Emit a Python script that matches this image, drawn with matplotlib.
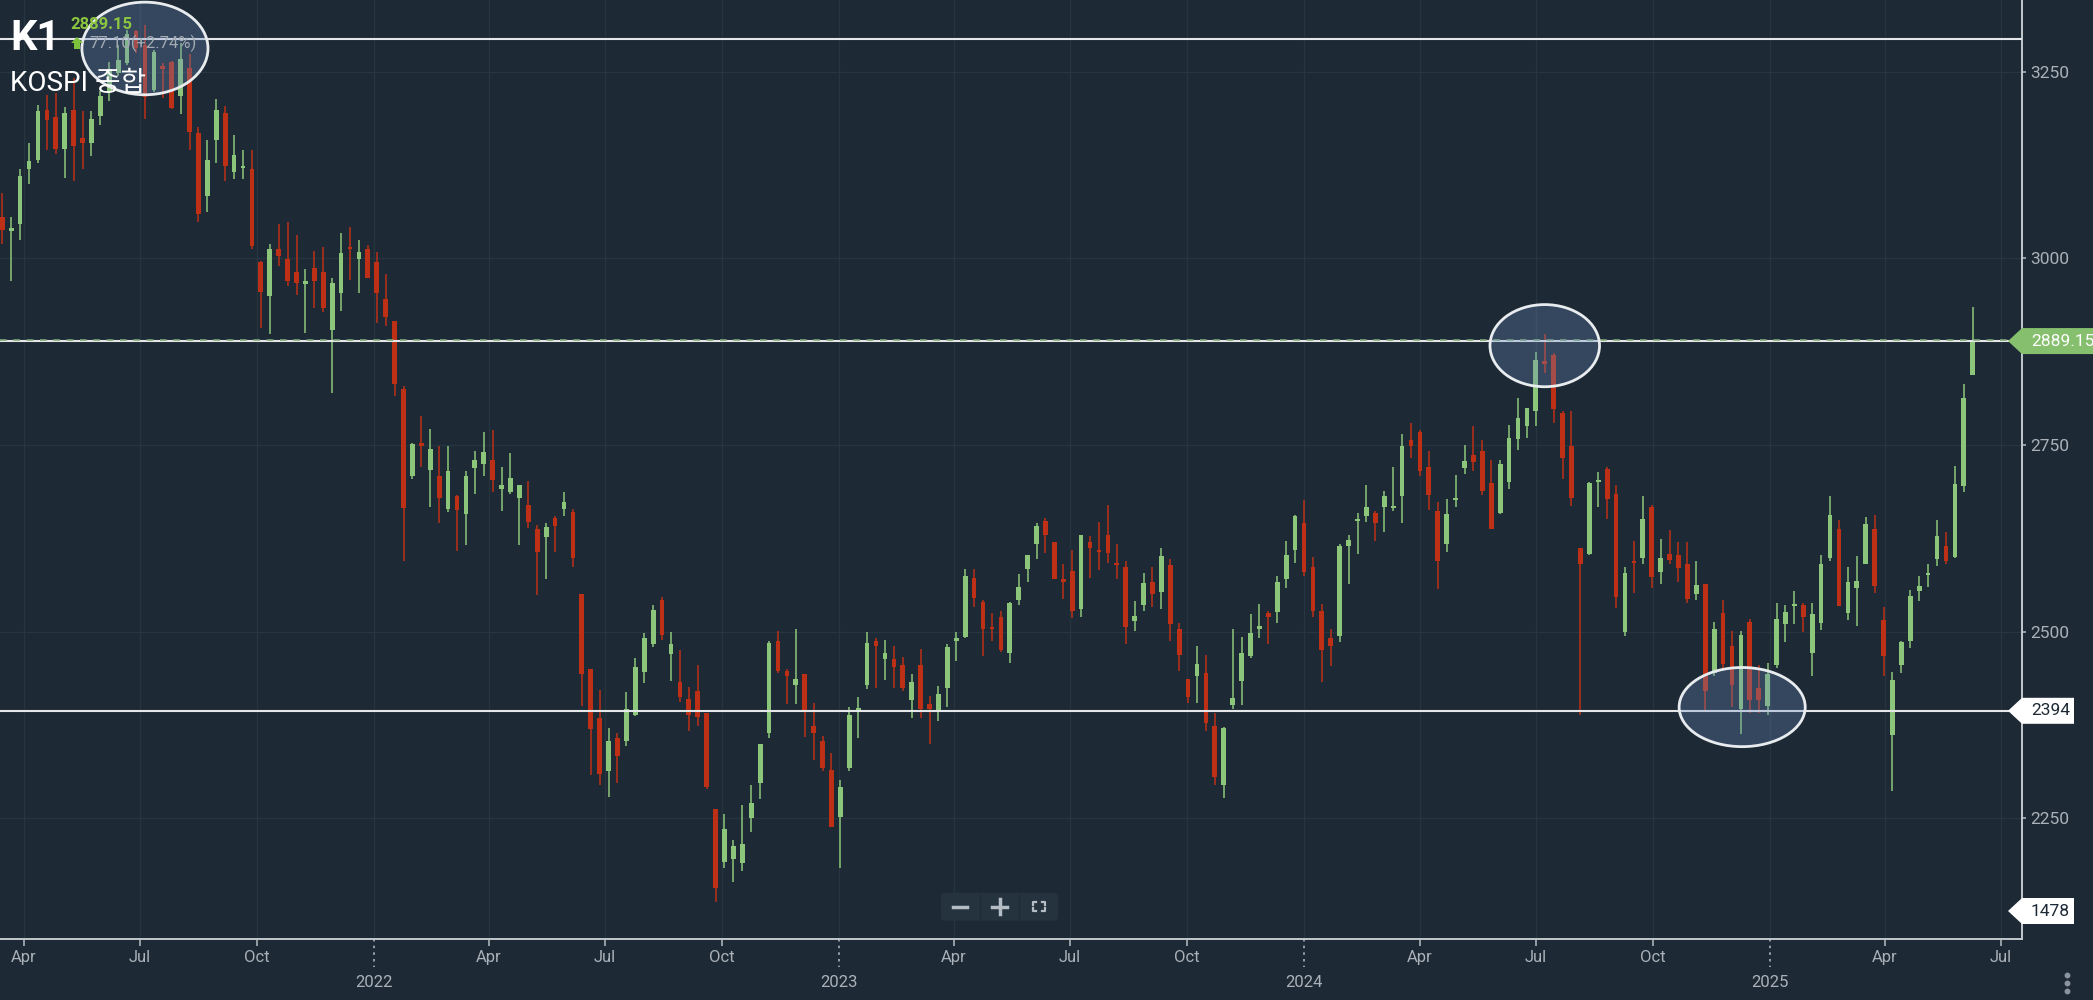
import matplotlib
matplotlib.use("Agg")
import matplotlib.pyplot as plt
import matplotlib.dates as mdates
import matplotlib.transforms as mtrans
from matplotlib.patches import Ellipse, Polygon, FancyBboxPatch
import pandas as pd

plt.rcParams['font.family'] = ['Roboto', 'Noto Sans CJK KR', 'DejaVu Sans']

# weekly KOSPI candles (one per week, starting Mon 2021-03-15)
opens = [3055, 3037, 3046, 3119, 3132, 3199, 3189, 3147, 3199, 3161,
         3155, 3191, 3223, 3248, 3261, 3304, 3286, 3225, 3257, 3263,
         3217, 3255, 3168, 3084, 3159, 3195, 3116, 3122, 3120, 2995,
         2949, 3013, 2999, 2981, 2966, 2987, 2981, 2904, 2953, 3015,
         2999, 3012, 2995, 2945, 2916, 2825, 2709, 2752, 2717, 2709,
         2664, 2682, 2657, 2719, 2724, 2730, 2691, 2687, 2679, 2670,
         2637, 2627, 2652, 2664, 2660, 2550, 2450, 2384, 2313, 2358,
         2353, 2388, 2446, 2483, 2543, 2470, 2432, 2410, 2420, 2391,
         2262, 2192, 2196, 2190, 2250, 2297, 2364, 2487, 2447, 2428,
         2443, 2374, 2353, 2315, 2252, 2318, 2395, 2429, 2487, 2463,
         2463, 2455, 2408, 2455, 2403, 2394, 2425, 2488, 2493, 2572,
         2540, 2506, 2520, 2472, 2542, 2584, 2618, 2648, 2620, 2570,
         2581, 2530, 2620, 2609, 2630, 2591, 2587, 2514, 2536, 2567,
         2553, 2589, 2504, 2436, 2440, 2445, 2373, 2295, 2402, 2434,
         2467, 2504, 2525, 2526, 2570, 2610, 2646, 2586, 2527, 2491,
         2494, 2615, 2649, 2655, 2659, 2667, 2666, 2681, 2757, 2767,
         2720, 2662, 2618, 2677, 2719, 2737, 2742, 2699, 2659, 2701,
         2758, 2775, 2796, 2863, 2870, 2793, 2749, 2612, 2604, 2701,
         2718, 2684, 2499, 2594, 2598, 2667, 2580, 2604, 2602, 2590,
         2550, 2564, 2444, 2525, 2481, 2397, 2513, 2425, 2400, 2455,
         2510, 2535, 2536, 2472, 2512, 2598, 2638, 2525, 2558, 2591,
         2638, 2516, 2362, 2456, 2488, 2554, 2576, 2597, 2615, 2600,
         2695, 2844]
highs = [3088, 3055, 3120, 3154, 3205, 3219, 3221, 3202, 3241, 3197,
         3197, 3224, 3263, 3286, 3306, 3306, 3312, 3279, 3261, 3264,
         3288, 3273, 3176, 3158, 3213, 3204, 3165, 3145, 3145, 2997,
         3019, 3046, 3049, 3031, 2985, 3010, 3015, 2973, 3034, 3042,
         3024, 3018, 3009, 2979, 2916, 2829, 2753, 2789, 2771, 2749,
         2749, 2683, 2715, 2742, 2767, 2770, 2721, 2739, 2696, 2702,
         2643, 2646, 2655, 2687, 2664, 2551, 2450, 2422, 2371, 2364,
         2419, 2465, 2498, 2536, 2547, 2499, 2475, 2426, 2455, 2391,
         2262, 2256, 2221, 2268, 2294, 2350, 2487, 2501, 2450, 2504,
         2443, 2404, 2360, 2338, 2302, 2399, 2412, 2499, 2492, 2489,
         2481, 2466, 2443, 2477, 2414, 2427, 2483, 2499, 2584, 2584,
         2543, 2525, 2527, 2540, 2577, 2602, 2646, 2652, 2620, 2591,
         2609, 2630, 2628, 2647, 2670, 2617, 2594, 2541, 2579, 2587,
         2612, 2597, 2511, 2436, 2481, 2469, 2391, 2372, 2504, 2493,
         2524, 2537, 2527, 2575, 2622, 2656, 2676, 2600, 2537, 2503,
         2617, 2630, 2659, 2696, 2661, 2688, 2721, 2765, 2780, 2770,
         2742, 2674, 2678, 2710, 2750, 2775, 2757, 2730, 2730, 2777,
         2813, 2799, 2874, 2898, 2873, 2796, 2795, 2612, 2700, 2714,
         2720, 2697, 2586, 2621, 2682, 2670, 2624, 2636, 2620, 2620,
         2594, 2564, 2513, 2543, 2501, 2501, 2517, 2455, 2458, 2538,
         2536, 2554, 2539, 2539, 2602, 2682, 2650, 2586, 2601, 2653,
         2656, 2533, 2446, 2487, 2556, 2574, 2591, 2649, 2634, 2722,
         2831, 2935]
lows = [3019, 2970, 3024, 3100, 3127, 3145, 3140, 3108, 3103, 3119,
        3137, 3179, 3210, 3244, 3259, 3275, 3187, 3223, 3214, 3200,
        3193, 3145, 3048, 3062, 3128, 3103, 3106, 3106, 3013, 2907,
        2898, 2990, 2963, 2951, 2900, 2934, 2928, 2820, 2930, 2971,
        2953, 2973, 2913, 2909, 2815, 2594, 2704, 2721, 2667, 2645,
        2660, 2608, 2616, 2685, 2709, 2687, 2661, 2685, 2616, 2639,
        2549, 2570, 2606, 2655, 2586, 2400, 2308, 2295, 2278, 2297,
        2347, 2387, 2431, 2479, 2489, 2434, 2406, 2367, 2373, 2289,
        2138, 2183, 2165, 2180, 2232, 2276, 2357, 2445, 2403, 2403,
        2359, 2328, 2314, 2239, 2184, 2314, 2357, 2423, 2425, 2435,
        2425, 2420, 2385, 2385, 2349, 2381, 2399, 2461, 2491, 2533,
        2468, 2487, 2473, 2458, 2536, 2566, 2597, 2605, 2571, 2544,
        2518, 2520, 2572, 2582, 2592, 2570, 2484, 2501, 2528, 2533,
        2530, 2488, 2447, 2405, 2405, 2367, 2295, 2277, 2397, 2402,
        2465, 2491, 2483, 2512, 2558, 2592, 2575, 2520, 2432, 2454,
        2486, 2564, 2604, 2647, 2621, 2633, 2661, 2646, 2733, 2708,
        2663, 2557, 2606, 2667, 2711, 2715, 2683, 2637, 2658, 2691,
        2743, 2759, 2775, 2846, 2779, 2705, 2668, 2389, 2603, 2667,
        2651, 2532, 2494, 2552, 2591, 2558, 2564, 2591, 2567, 2539,
        2542, 2394, 2440, 2450, 2399, 2363, 2391, 2391, 2389, 2451,
        2486, 2510, 2500, 2440, 2502, 2595, 2534, 2516, 2508, 2591,
        2552, 2440, 2287, 2445, 2478, 2541, 2560, 2588, 2590, 2599,
        2687, 2844]
closes = [3038, 3040, 3110, 3130, 3197, 3185, 3147, 3195, 3150, 3155,
          3186, 3218, 3254, 3266, 3301, 3281, 3216, 3276, 3254, 3201,
          3267, 3169, 3059, 3132, 3199, 3124, 3138, 3123, 3017, 2955,
          3013, 3003, 2969, 2967, 2969, 2969, 2934, 2967, 3007, 3013,
          3009, 2974, 2953, 2921, 2832, 2666, 2751, 2749, 2744, 2679,
          2715, 2663, 2709, 2730, 2740, 2703, 2696, 2706, 2696, 2647,
          2607, 2640, 2641, 2673, 2599, 2443, 2370, 2309, 2353, 2333,
          2397, 2453, 2492, 2529, 2495, 2483, 2412, 2388, 2386, 2292,
          2157, 2236, 2213, 2215, 2270, 2350, 2485, 2447, 2440, 2437,
          2392, 2364, 2317, 2239, 2292, 2388, 2398, 2485, 2481, 2471,
          2453, 2425, 2433, 2396, 2396, 2417, 2479, 2491, 2574, 2545,
          2504, 2504, 2475, 2539, 2560, 2602, 2642, 2629, 2571, 2567,
          2528, 2629, 2612, 2608, 2605, 2590, 2506, 2521, 2565, 2550,
          2601, 2510, 2469, 2412, 2457, 2377, 2305, 2371, 2411, 2471,
          2498, 2507, 2520, 2566, 2602, 2655, 2580, 2528, 2476, 2481,
          2615, 2623, 2651, 2667, 2645, 2682, 2668, 2749, 2749, 2715,
          2683, 2595, 2658, 2679, 2729, 2727, 2689, 2638, 2725, 2759,
          2786, 2799, 2864, 2859, 2798, 2733, 2679, 2590, 2699, 2702,
          2677, 2546, 2578, 2592, 2651, 2573, 2598, 2596, 2585, 2544,
          2562, 2420, 2503, 2457, 2429, 2496, 2408, 2408, 2443, 2517,
          2526, 2537, 2520, 2524, 2591, 2656, 2534, 2566, 2568, 2644,
          2561, 2468, 2435, 2486, 2548, 2561, 2578, 2628, 2595, 2698,
          2813, 2889.15]
first_week = "2021-03-15"

last_price = 2889.15
change_text = "77.10(+2.74%)"
top_level = 3294
support_level = 2394
off_level = 1478
price_ticks = [2250, 2500, 2750, 3000, 3250]

# highlighted zones: centre date, centre price, width (days), height (points)
circles = [("2021-07-05", 3281, 99, 124),
           ("2024-07-08", 2883, 86, 110),
           ("2024-12-10", 2399, 99, 106)]

BG = '#1d2935'
GRID = '#27353f'
GREEN = '#8cc67a'
RED = '#bd3016'
WHITE = '#e4e6e8'
AXC = '#c3c8cd'
TICKC = '#aab1b8'

W, H = 2093, 1000
fig = plt.figure(figsize=(W / 100, H / 100), dpi=100)
fig.patch.set_facecolor(BG)
ax = fig.add_axes([0, 61 / H, 2022 / W, 939 / H])
ax.set_facecolor(BG)

weeks = pd.date_range(first_week, periods=len(opens), freq="7D")
x = mdates.date2num(weeks)
t0 = x[0]
ax.set_xlim(t0 - 1.8, t0 + 1585.7)
ax.set_ylim(2088.4, 3345.9)

# grid
quarters = pd.date_range("2021-04-01", "2025-07-01", freq="QS")
for q in quarters:
    ax.axvline(mdates.date2num(q), color=GRID, lw=1, zorder=0)
for v in price_ticks:
    ax.axhline(v, color=GRID, lw=1, zorder=0)

# candles
cols = [GREEN if c >= o else RED for o, c in zip(opens, closes)]
ax.vlines(x, lows, highs, colors=cols, lw=1.1, zorder=3)
bottoms, heights = [], []
for o, c in zip(opens, closes):
    d = abs(c - o)
    if d < 3:
        bottoms.append(min(o, c) - (3 - d) / 2)
        heights.append(3)
    else:
        bottoms.append(min(o, c))
        heights.append(d)
ax.bar(x, heights, bottom=bottoms, width=3.7, color=cols, linewidth=0, zorder=3)

# drawn levels
ax.axhline(top_level, color=WHITE, lw=1.5, zorder=4)
ax.axhline(support_level, color=WHITE, lw=1.5, zorder=4)
ax.axhline(last_price - 0.5, color=WHITE, lw=1.5, zorder=4)
ax.axhline(last_price + 0.8, color='#7fa77a', lw=1.2, ls=(0, (4, 4)), zorder=4)

# highlight ellipses
for day, price, w, h in circles:
    cx = mdates.date2num(pd.Timestamp(day))
    ax.add_patch(Ellipse((cx, price), w, h, facecolor=(0.42, 0.56, 0.76, 0.3),
                         edgecolor='#e8ecef', lw=2, zorder=6))

# axes look
for s in ['left', 'top']:
    ax.spines[s].set_visible(False)
for s in ['right', 'bottom']:
    ax.spines[s].set_color(AXC)
    ax.spines[s].set_linewidth(1.4)

months = [q for q in quarters if q.month != 1]
ax.set_xticks(mdates.date2num(months))
ax.set_xticklabels([q.strftime('%b') for q in months])
ax.tick_params(axis='x', colors=TICKC, length=5, width=1.2, pad=3, labelsize=12)

blend = mtrans.blended_transform_factory(ax.transData, ax.transAxes)
for q in quarters:
    if q.month == 1:
        xq = mdates.date2num(q)
        ax.plot([xq, xq], [0, -0.03], transform=blend, color=TICKC, lw=1.2,
                ls=(0, (1.5, 2.5)), clip_on=False)
        ax.text(xq, -0.0458, str(q.year), transform=blend, color=TICKC,
                fontsize=12, ha='center', va='center')

ax.yaxis.tick_right()
ax.set_yticks(price_ticks)
ax.set_yticklabels([str(v) for v in price_ticks])
ax.tick_params(axis='y', colors=TICKC, length=3, width=1.2, pad=3, labelsize=12.5)

ident = mtrans.IdentityTransform()


def ypix(v):
    return ax.transData.transform((t0, v))[1]


def badge(yc, x_right, face, label, tcolor):
    pts = [(2008, yc), (2022, yc - 13), (x_right, yc - 13),
           (x_right, yc + 13), (2022, yc + 13)]
    fig.add_artist(Polygon(pts, closed=True, transform=ident, facecolor=face,
                           edgecolor='none', zorder=10))
    fig.text(2031 / W, yc / H, label, color=tcolor, fontsize=12.5,
             ha='left', va='center', zorder=11)


badge(ypix(last_price), 2093, '#86c06e', f"{last_price:.2f}", 'white')
badge(ypix(support_level), 2074, 'white', str(support_level), '#1d2935')
badge(H - 911, 2074, 'white', str(off_level), '#1d2935')

# title block
fig.text(10 / W, 1 - 50 / H, "K1", color='white', fontsize=30,
         fontweight='bold', ha='left', va='baseline')
fig.text(10 / W, 1 - 91 / H, "KOSPI 종합", color='white', fontsize=20,
         ha='left', va='baseline')
fig.text(70 / W, 1 - 29 / H, f"{last_price:.2f}", color='#8cc63f',
         fontsize=12, fontweight='bold', ha='left', va='baseline')
arrow = [(77, 37), (83, 43), (80, 43), (80, 49), (74, 49), (74, 43), (71, 43)]
fig.add_artist(Polygon([(a, H - b) for a, b in arrow], closed=True,
                       transform=ident, facecolor='#7cc23a', edgecolor='none'))
fig.text(89 / W, 1 - 48 / H, change_text, color='#a3aab1', fontsize=12,
         ha='left', va='baseline')

# zoom buttons
fig.add_artist(FancyBboxPatch((941, H - 920.7), 117, 28,
                              boxstyle='round,pad=0,rounding_size=4',
                              transform=ident, facecolor='#25333f',
                              edgecolor='none'))
for sx in [979.5, 1019]:
    fig.add_artist(plt.Line2D([sx, sx], [H - 918, H - 895], transform=ident,
                              color='#1f2b36', lw=1))
yc = H - 906.7
fig.add_artist(plt.Line2D([953, 967], [yc, yc], transform=ident,
                          color='#b4bcc4', lw=2.5))
fig.add_artist(plt.Line2D([992, 1007], [yc, yc], transform=ident,
                          color='#b4bcc4', lw=2.5))
fig.add_artist(plt.Line2D([999.5, 999.5], [yc - 7.5, yc + 7.5], transform=ident,
                          color='#b4bcc4', lw=2.5))
fx, hw, hh, k = 1038.5, 6, 4.5, 3
for sx in (-1, 1):
    for sy in (-1, 1):
        cx, cy = fx + sx * hw, yc + sy * hh
        fig.add_artist(plt.Line2D([cx - sx * k, cx, cx], [cy, cy, cy - sy * k],
                                  transform=ident, color='#b4bcc4', lw=1.6))

# menu dots bottom right
for dy in [975, 983, 991]:
    fig.add_artist(plt.Line2D([2067], [H - dy], transform=ident, marker='o',
                              markersize=3.2, color='#8a949e', lw=0))

fig.savefig("out.png", dpi=100, facecolor=BG)
